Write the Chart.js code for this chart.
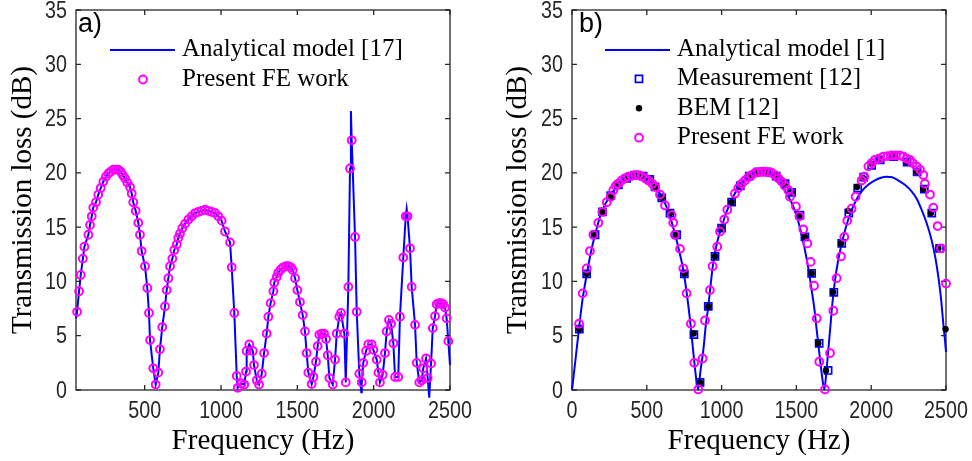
<!DOCTYPE html>
<html>
<head>
<meta charset="utf-8">
<script src="https://cdn.jsdelivr.net/npm/chart.js@4.4.0/dist/chart.umd.min.js"></script>
<style>
  html, body { margin: 0; padding: 0; background: #fff; }
  #wrap { position: relative; width: 972px; height: 461px; }
  .panel { position: absolute; top: 0; width: 486px; height: 461px; }
</style>
</head>
<body>
<div id="wrap">
  <div class="panel" style="left:0"><canvas id="chartA" width="486" height="461"></canvas></div>
  <div class="panel" style="left:486px"><canvas id="chartB" width="486" height="461"></canvas></div>
</div>
<script>
// ---------- panel a) ----------
const feFreqA = [57,70,81,95,105,131,142,153,163,181,196,212,229,246,262,277,294,312,327,343,356,371,386,404,415,425,441,458,469,480,
  502,517,528,535,556,572,589,600,615,633,644,655,666,681,694,710,720,731,746,764,786,808,830,851,873,895,917,939,961,982,
  1004,1026,1059,1070,1087,1103,1109,1135,1152,1164,1168,1185,1208,1216,1234,1249,1267,1282,1299,1310,1325,1343,1349,1365,1375,
  1391,1408,1426,1441,1457,1470,1485,1500,1517,1535,1550,1561,1572,1594,1605,1622,1633,1644,1660,1675,1688,1699,1710,1732,1747,
  1758,1775,1786,1808,1817,1834,1845,1856,1878,1889,1906,1922,1932,1950,1965,1987,1998,2020,2031,2041,2059,2074,2085,2100,2114,
  2129,2140,2161,2172,2194,2210,2222,2238,2249,2271,2282,2299,2315,2325,2343,2354,2376,2387,2402,2413,2428,2441,2456,2467,2478,2489];
const feTlA = [7.2,9.1,10.6,12.1,13.2,14.3,15.2,16.0,16.8,17.3,18.0,18.6,19.2,19.65,19.95,20.1,20.3,20.3,20.3,20.1,19.8,19.5,19.1,18.7,18.1,17.3,16.5,15.4,14.3,12.8,
  11.4,9.4,7.1,4.6,2.0,0.5,1.6,3.75,5.8,7.7,9.2,10.3,11.4,12.1,12.9,13.4,14.0,14.4,14.9,15.3,15.7,16.0,16.3,16.4,16.5,16.6,16.5,16.4,16.3,16.0,
  15.6,14.6,13.6,11.3,7.1,1.3,0.2,0.6,0.5,1.7,3.6,4.2,3.6,2.3,0.9,0.5,1.5,3.4,5.2,6.75,8.0,9.1,9.9,10.4,10.8,
  11.1,11.3,11.4,11.4,11.3,11.05,10.3,9.2,8.1,6.9,5.4,3.4,1.6,0.55,1.2,2.6,4.05,5.1,5.2,5.2,4.7,3.2,1.1,0.5,2.8,
  5.2,6.75,7.1,5.2,0.7,9.5,20.4,23.0,14.1,7.2,1.5,0.7,2.5,3.6,4.2,4.2,3.7,2.8,1.6,0.7,1.4,3.4,5.4,6.45,6.1,
  4.3,1.2,1.2,6.75,12.2,16.0,16.0,13.05,9.5,6.0,2.5,0.7,0.9,2.0,2.9,1.1,2.45,5.7,6.8,7.9,8.0,8.0,7.9,7.6,6.6,4.5];
// where the analytical curve leaves the FE points (ends, sharp peak, dips)
const lineExtraFreqA = [50, 1851, 1919, 2216, 2364, 2500];
const lineExtraTlA = [6.6, 25.7, -0.2, 16.7, -0.7, 2.3];

// ---------- panel b) ----------
const lineFreqB = [0,25,47,70,98,125,154,198,265,332,380,421,460,510,555,600,645,688,720,744,770,789,810,828,843,860,878,894,911,944,970,
  1000,1030,1067,1105,1145,1190,1234,1279,1320,1346,1390,1435,1470,1502,1530,1557,1580,1602,1620,1636,1655,1672,1687,1700,1712,1725,
  1740,1758,1780,1803,1835,1870,1900,1936,1980,2025,2065,2103,2140,2181,2225,2270,2305,2337,2370,2404,2430,2449,2467,2482,2493,2500];
const lineTlB = [0,3.0,5.7,8.3,10.6,12.6,14.3,16.4,18.1,19.3,19.65,19.8,19.75,19.3,18.7,17.8,16.4,14.4,12.6,11.05,8.6,6.45,3.6,1.3,0.05,1.9,3.7,5.9,7.7,11.7,13.6,
  15.0,16.3,17.5,18.5,19.2,19.7,20.0,20.0,19.85,19.65,19.1,18.1,17.2,16.0,14.6,12.9,11.2,9.2,7.5,5.5,3.2,1.2,0.05,1.6,3.5,5.5,
  7.9,10.1,12.0,13.5,15.2,16.6,17.5,18.3,18.9,19.3,19.55,19.65,19.6,19.3,18.9,18.3,17.6,16.6,15.4,13.8,12.1,10.4,8.4,6.1,4.6,3.5];

const measFreqB = [49,98,154,203,259,310,365,420,475,520,555,600,655,700,751,815,856,911,956,1000,1067,1125,1185,1245,1305,1365,1424,1468,
  1524,1557,1602,1652,1712,1750,1803,1850,1910,1950,2003,2060,2150,2240,2307,2355,2405,2457];
const measTlB = [5.6,10.7,14.3,16.4,17.9,18.9,19.5,19.8,19.7,19.4,18.7,17.7,16.3,14.3,10.7,5.1,0.7,7.7,12.3,14.9,17.3,18.8,19.7,20.1,20.1,19.7,19.0,18.2,
  16.1,14.1,10.75,4.3,1.8,9.0,13.5,16.3,18.6,19.6,20.7,21.2,21.5,21.0,20.1,18.5,16.3,13.05];

const bemFreqB = [49,98,154,203,259,310,365,420,475,520,555,600,655,700,751,813,856,911,956,1000,1067,1125,1185,1245,1305,1365,1424,1468,
  1524,1557,1602,1646,1698,1745,1798,1845,1905,1947,2003,2060,2150,2237,2304,2348,2399,2449,2497];
const bemTlB = [5.6,10.7,14.3,16.4,17.8,18.9,19.5,19.8,19.7,19.4,18.7,17.7,16.3,14.3,10.7,5.2,0.7,7.7,12.3,14.9,17.3,18.8,19.7,20.1,20.1,19.7,19.0,18.2,
  16.1,14.1,10.75,4.3,1.8,9.0,13.5,16.5,18.7,19.5,20.8,21.3,21.6,21.0,20.1,18.5,16.3,13.05,5.6];

const feFreqB = [47,71,98,120,143,176,203,232,259,276,292,309,332,354,376,399,421,443,466,488,510,537,555,588,622,666,677,688,722,744,766,795,817,844,
  873,889,922,940,971,989,1018,1038,1089,1112,1134,1156,1179,1201,1223,1245,1268,1290,1312,1335,1357,1379,1402,1424,1446,1457,1497,1520,1546,1573,
  1595,1618,1636,1653,1691,1725,1747,1769,1798,1820,1840,1869,1896,1936,1954,1981,2003,2025,2052,2081,2110,2137,2164,2192,2215,2237,2259,2277,
  2304,2326,2348,2359,2393,2415,2444,2466,2500];
const feTlB = [6.1,8.9,11.2,12.8,14.3,15.4,16.4,17.3,17.8,18.4,18.8,19.0,19.3,19.5,19.65,19.7,19.8,19.8,19.7,19.5,19.3,19.0,18.7,18.0,17.0,16.1,15.4,14.3,13.0,11.2,8.9,6.1,2.5,0.05,
  2.9,6.4,9.2,11.4,13.2,14.6,15.7,16.6,18.1,18.6,19.0,19.3,19.6,19.8,20.0,20.05,20.1,20.1,20.05,20.0,19.8,19.5,19.2,18.8,18.4,17.8,16.9,16.0,14.8,13.5,
  11.8,9.6,6.6,2.6,0.05,3.4,7.3,10.3,12.3,14.1,15.6,16.7,17.8,19.3,19.65,20.6,20.9,21.2,21.3,21.5,21.55,21.6,21.6,21.6,21.5,21.3,21.2,20.9,
  20.6,20.3,19.8,19.0,18.0,16.8,15.1,13.05,9.8];

// ---------- ticks ----------
const yTicks = [0, 5, 10, 15, 20, 25, 30, 35];
const xTicksA = [500, 1000, 1500, 2000, 2500];
const xTicksB = [0, 500, 1000, 1500, 2000, 2500];

const axisColor = '#262626';
const sansFamily = "'Liberation Sans', Arial, sans-serif";
const serifFamily = "'Liberation Serif', 'Times New Roman', serif";

function toPoints(xs, ys) {
    return xs.map((x, i) => ({ x: x, y: ys[i] }));
}

function mergePoints(xs1, ys1, xs2, ys2) {
    return toPoints(xs1, ys1).concat(toPoints(xs2, ys2)).sort((a, b) => a.x - b.x);
}

// box round the axes with inward tick marks on all four sides
const framePlugin = {
    id: 'matlabFrame',
    beforeDatasetsDraw(chart) {
        const { ctx, chartArea: a, scales } = chart;
        const len = 5;
        ctx.save();
        ctx.strokeStyle = axisColor;
        ctx.lineWidth = 1.3;
        ctx.beginPath();
        scales.x.ticks.forEach(t => {
            const x = scales.x.getPixelForValue(t.value);
            ctx.moveTo(x, a.bottom); ctx.lineTo(x, a.bottom - len);
            ctx.moveTo(x, a.top); ctx.lineTo(x, a.top + len);
        });
        scales.y.ticks.forEach(t => {
            const y = scales.y.getPixelForValue(t.value);
            ctx.moveTo(a.left, y); ctx.lineTo(a.left + len, y);
            ctx.moveTo(a.right, y); ctx.lineTo(a.right - len, y);
        });
        ctx.stroke();
        ctx.strokeRect(a.left, a.top, a.right - a.left, a.bottom - a.top);
        ctx.restore();
    }
};

// MATLAB-style narrow tick labels (Helvetica squeezed horizontally)
const tickLabelPlugin = {
    id: 'narrowTicks',
    afterDraw(chart) {
        const { ctx, chartArea: a, scales } = chart;
        const squeeze = 0.82;
        ctx.save();
        ctx.fillStyle = axisColor;
        ctx.font = '24px ' + sansFamily;
        ctx.textBaseline = 'middle';
        ctx.textAlign = 'center';
        scales.x.ticks.forEach(t => {
            ctx.save();
            ctx.translate(scales.x.getPixelForValue(t.value), a.bottom + 21);
            ctx.scale(squeeze, 1);
            ctx.fillText(String(t.value), 0, 0);
            ctx.restore();
        });
        ctx.textAlign = 'right';
        scales.y.ticks.forEach(t => {
            ctx.save();
            ctx.translate(a.left - 9, scales.y.getPixelForValue(t.value) + 1);
            ctx.scale(squeeze, 1);
            ctx.fillText(String(t.value), 0, 0);
            ctx.restore();
        });
        ctx.restore();
    }
};

function drawMarker(ctx, ds, x, y) {
    const r = ds.pointRadius;
    ctx.beginPath();
    if (ds.pointStyle === 'rect') {
        const s = Math.SQRT1_2 * r;
        ctx.rect(x - s, y - s, 2 * s, 2 * s);
    } else {
        ctx.arc(x, y, r, 0, Math.PI * 2);
    }
    ctx.fillStyle = ds.pointBackgroundColor;
    ctx.fill();
    if (ds.pointBorderWidth > 0) {
        ctx.lineWidth = ds.pointBorderWidth;
        ctx.strokeStyle = ds.pointBorderColor;
        ctx.stroke();
    }
}

// borderless legend inside the axes, plus the panel letter
const legendPlugin = {
    id: 'matlabLegend',
    afterDraw(chart, args, opts) {
        const ctx = chart.ctx;
        ctx.save();
        ctx.fillStyle = '#000';
        ctx.textBaseline = 'alphabetic';
        ctx.font = '27px ' + sansFamily;
        ctx.fillText(opts.label, opts.labelX, opts.labelY);

        ctx.font = '25px ' + serifFamily;
        opts.items.forEach((idx, i) => {
            const ds = chart.data.datasets[idx];
            const base = opts.y0 + i * opts.rowH;
            if (ds.showLine) {
                ctx.strokeStyle = ds.borderColor;
                ctx.lineWidth = ds.borderWidth;
                ctx.beginPath();
                ctx.moveTo(opts.lineX0, base - 6);
                ctx.lineTo(opts.lineX1, base - 6);
                ctx.stroke();
            } else {
                drawMarker(ctx, ds, opts.markerX, base - 6.5);
            }
            ctx.fillStyle = '#000';
            ctx.fillText(ds.label, opts.textX, base);
        });
        ctx.restore();
    }
};

function makeScales(xMin, xTicks, yAxisWidth, yTitlePad) {
    return {
        x: {
            type: 'linear', min: xMin, max: 2500,
            afterBuildTicks: s => { s.ticks = xTicks.map(v => ({ value: v })); },
            afterFit: s => { s.height = 71; s.paddingLeft = 0; s.paddingRight = 0; },
            grid: { display: false, drawTicks: false },
            border: { display: false },
            ticks: { display: false },
            title: { display: true, text: 'Frequency (Hz)', color: '#000',
                font: { family: serifFamily, size: 29 }, padding: { top: 0, bottom: 2 } }
        },
        y: {
            type: 'linear', min: 0, max: 35,
            afterBuildTicks: s => { s.ticks = yTicks.map(v => ({ value: v })); },
            afterFit: s => { s.width = yAxisWidth; s.paddingTop = 0; s.paddingBottom = 0; },
            grid: { display: false, drawTicks: false },
            border: { display: false },
            ticks: { display: false },
            title: { display: true, text: 'Transmission loss (dB)', color: '#000',
                font: { family: serifFamily, size: 29 }, padding: { top: yTitlePad, bottom: 0 } }
        }
    };
}

function baseOptions(padRight, scales, legend) {
    return {
        responsive: false,
        animation: false,
        devicePixelRatio: 1,
        layout: { padding: { top: 10, right: padRight, bottom: 0, left: 0 } },
        plugins: {
            legend: { display: false },
            tooltip: { enabled: false },
            matlabLegend: legend
        },
        scales: scales
    };
}

const circleStyle = {
    showLine: false, pointStyle: 'circle', pointRadius: 3.9, pointBorderWidth: 2,
    pointBorderColor: '#ff00ff', pointBackgroundColor: 'rgba(0,0,0,0)', clip: false
};

new Chart(document.getElementById('chartA'), {
    type: 'scatter',
    data: {
        datasets: [
            {
                label: 'Analytical model [17]',
                data: mergePoints(feFreqA, feTlA, lineExtraFreqA, lineExtraTlA),
                showLine: true, borderColor: '#0000ff', borderWidth: 2, pointRadius: 0,
                tension: 0, clip: false, order: 2
            },
            Object.assign({ label: 'Present FE work', data: toPoints(feFreqA, feTlA), order: 1 }, circleStyle)
        ]
    },
    options: baseOptions(36, makeScales(50, xTicksA, 76, 6), {
        label: 'a)', labelX: 78, labelY: 32,
        items: [0, 1], y0: 56, rowH: 30,
        lineX0: 110, lineX1: 175, markerX: 143, textX: 182
    }),
    plugins: [framePlugin, tickLabelPlugin, legendPlugin]
});

new Chart(document.getElementById('chartB'), {
    type: 'scatter',
    data: {
        datasets: [
            {
                label: 'Analytical model [1]',
                data: toPoints(lineFreqB, lineTlB),
                showLine: true, borderColor: '#0000ff', borderWidth: 2, pointRadius: 0,
                cubicInterpolationMode: 'monotone', clip: false, order: 4
            },
            {
                label: 'Measurement [12]',
                data: toPoints(measFreqB, measTlB),
                showLine: false, pointStyle: 'rect', pointRadius: 5, pointBorderWidth: 1.7,
                pointBorderColor: '#0000ff', pointBackgroundColor: 'rgba(0,0,0,0)', clip: false, order: 3
            },
            {
                label: 'BEM [12]',
                data: toPoints(bemFreqB, bemTlB),
                showLine: false, pointStyle: 'circle', pointRadius: 3.2, pointBorderWidth: 0,
                pointBorderColor: '#000', pointBackgroundColor: '#000', clip: false, order: 2
            },
            Object.assign({ label: 'Present FE work', data: toPoints(feFreqB, feTlB), order: 1 }, circleStyle)
        ]
    },
    options: baseOptions(26, makeScales(0, xTicksB, 86, 15), {
        label: 'b)', labelX: 93, labelY: 32,
        items: [0, 1, 2, 3], y0: 56, rowH: 29.4,
        lineX0: 119, lineX1: 184, markerX: 153, textX: 191
    }),
    plugins: [framePlugin, tickLabelPlugin, legendPlugin]
});
</script>
</body>
</html>
